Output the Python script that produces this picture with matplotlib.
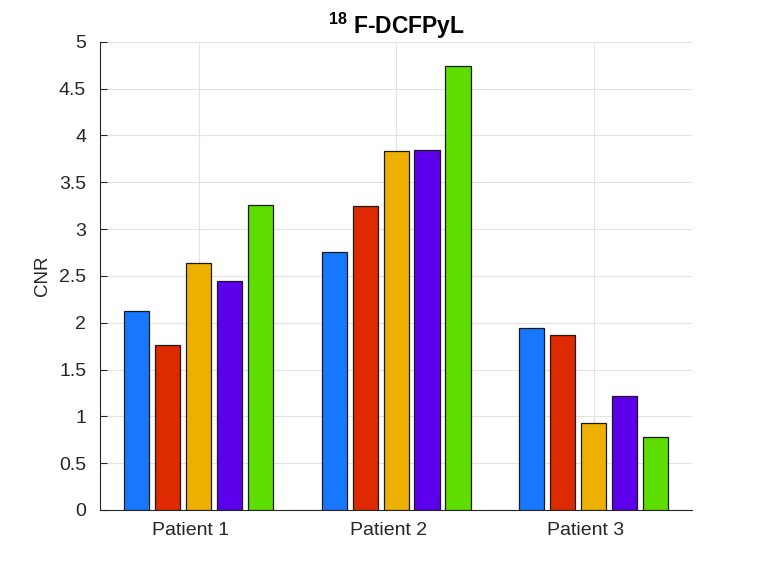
import matplotlib
matplotlib.use("Agg")
import matplotlib.pyplot as plt
import matplotlib.transforms as mtransforms
import numpy as np

plt.rcParams['font.family'] = ['Liberation Sans', 'DejaVu Sans']
plt.rcParams['mathtext.fontset'] = 'custom'
plt.rcParams['mathtext.rm'] = 'Liberation Sans:bold'
plt.rcParams['mathtext.bf'] = 'Liberation Sans:bold'
plt.rcParams['mathtext.default'] = 'bf'

patients = ['Patient 1', 'Patient 2', 'Patient 3']
series1 = [2.12, 2.75, 1.94]
series2 = [1.76, 3.25, 1.87]
series3 = [2.64, 3.83, 0.93]
series4 = [2.45, 3.84, 1.22]
series5 = [3.26, 4.74, 0.78]
all_series = [series1, series2, series3, series4, series5]
colors = ['#1777FF', '#DE2A00', '#EDB000', '#5C00EB', '#5EDD00']
yticks = [0, 0.5, 1, 1.5, 2, 2.5, 3, 3.5, 4, 4.5, 5]
ytick_labels = ['0', '0.5', '1', '1.5', '2', '2.5', '3', '3.5', '4', '4.5', '5']

fig = plt.figure(figsize=(7.64, 5.73), dpi=100)
ax = fig.add_axes([0.131, 0.110, 0.775, 0.817])

x = np.arange(1, len(patients) + 1)
step = 0.157
width = 0.128
for i, (vals, c) in enumerate(zip(all_series, colors)):
    ax.bar(x + (i - 2) * step, vals, width=width, color=c,
           edgecolor='#1a1a1a', linewidth=0.9, zorder=3)

ax.set_xlim(0.5, 3.5)
ax.set_ylim(0, 5)
ax.set_xticks(x)
ax.set_xticklabels(patients)
ax.set_yticks(yticks)
ax.set_yticklabels(ytick_labels)
ax.tick_params(direction='in', length=5, width=0.8, colors='#262626',
               labelsize=14)
ax.tick_params(axis='y', pad=10)
ax.tick_params(axis='x', pad=9)
offset = mtransforms.ScaledTranslation(-8 / 100, 0, fig.dpi_scale_trans)
for lab in ax.get_xticklabels():
    lab.set_transform(lab.get_transform() + offset)
ax.grid(True, color='#e3e3e3', linewidth=0.8, zorder=0)
ax.set_axisbelow(True)
for s in ['top', 'right']:
    ax.spines[s].set_visible(False)
for s in ['left', 'bottom']:
    ax.spines[s].set_color('#262626')
    ax.spines[s].set_linewidth(0.8)
ax.set_ylabel('CNR', fontsize=13.5, color='#262626', labelpad=6)
ax.set_title(r'$^{18}$ F-DCFPyL', fontsize=16.5, fontweight='bold', pad=6)

fig.savefig('out.png', dpi=100)
